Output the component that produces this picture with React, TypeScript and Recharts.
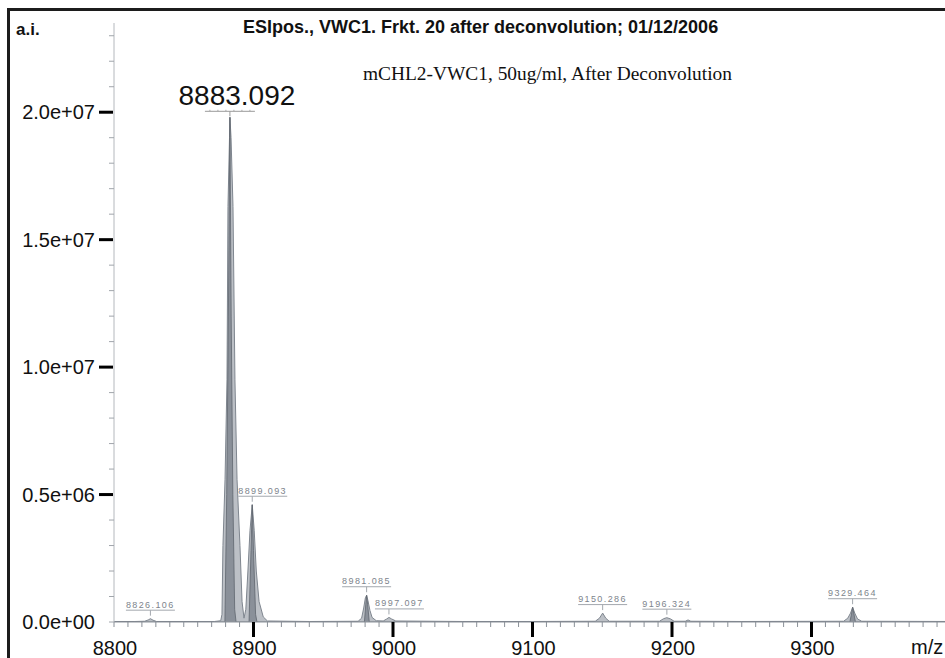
import React from 'react';
import { ComposedChart, Area, XAxis, YAxis, ReferenceDot } from 'recharts';

// ---- Data (intensity in units of 1e6 a.i.) ----
const spectrumMz = [
  8800, 8815, 8822, 8824.5, 8826.1, 8828, 8830.5, 8850, 8872, 8876.5,
  8877.4, 8878.1, 8879.6, 8881.0, 8881.7, 8882.8, 8883.1, 8883.9, 8885.3, 8886.7,
  8888.2, 8890.3, 8891.8, 8893.2, 8894.5, 8896.0, 8897.5, 8899.1, 8900.5, 8902.0,
  8904.0, 8907, 8910, 8940, 8975, 8977.5, 8979, 8980.2, 8981.1, 8982,
  8983.5, 8985, 8988, 8993, 8995.5, 8997.1, 8999, 9002, 9050, 9100,
  9145, 9148, 9150.3, 9152.5, 9155, 9191, 9194, 9196.3, 9199, 9201.5,
  9209.5, 9211.5, 9213.5, 9250, 9323, 9326, 9328, 9329.5, 9331, 9333,
  9336, 9400,
];
const spectrumIntensity = [
  0.02, 0.02, 0.03, 0.08, 0.13, 0.07, 0.02, 0.02, 0.02, 0.05,
  0.3, 3.0, 5.6, 9.5, 16.3, 19.0, 19.8, 19.0, 16.3, 9.5,
  5.6, 3.0, 0.8, 0.15, 0.5, 2.0, 3.6, 4.6, 3.6, 2.0,
  0.8, 0.2, 0.04, 0.02, 0.03, 0.15, 0.55, 0.95, 1.05, 0.85,
  0.45, 0.18, 0.05, 0.04, 0.12, 0.18, 0.12, 0.04, 0.02, 0.02,
  0.03, 0.15, 0.35, 0.15, 0.03, 0.03, 0.13, 0.17, 0.12, 0.03,
  0.03, 0.08, 0.03, 0.02, 0.03, 0.15, 0.35, 0.58, 0.35, 0.12,
  0.03, 0.02,
];

// darker overlapping core trace of the strongest peaks
const coreMz = [
  8800, 8879.5, 8880.8, 8882.0, 8883.1, 8884.0, 8885.2, 8886.5, 8887.5,
  8896.8, 8898.2, 8899.1, 8900.0, 8901.5, 8902.5,
  8979.5, 8980.5, 8981.1, 8981.8, 8983,
  9327.5, 9328.8, 9329.5, 9330.3, 9331.5, 9400,
];
const coreIntensity = [
  0, 0, 5, 12, 19.8, 12, 5, 0.5, 0,
  0, 2.8, 4.6, 2.8, 0.3, 0,
  0, 0.7, 1.05, 0.7, 0,
  0, 0.35, 0.58, 0.35, 0, 0,
];

const peakMz = [8826.106, 8883.092, 8899.093, 8981.085, 8997.097, 9150.286, 9196.324, 9329.464];
const peakHeight = [0.13, 19.8, 4.6, 1.05, 0.18, 0.35, 0.17, 0.58];
const peakLabels = ['8826.106', '8883.092', '8899.093', '8981.085', '8997.097', '9150.286', '9196.324', '9329.464'];

const xMajorTicks = [8800, 8900, 9000, 9100, 9200, 9300];
const xTickLabels = ['8800', '8900', '9000', '9100', '9200', '9300'];
const yMajorTicks = [0, 5, 10, 15, 20];
const yTickLabels = ['0.0e+00', '0.5e+06', '1.0e+07', '1.5e+07', '2.0e+07'];

const titleText = 'ESIpos., VWC1. Frkt. 20 after deconvolution; 01/12/2006';
const subtitleText = 'mCHL2-VWC1, 50ug/ml, After Deconvolution';
const yAxisTitle = 'a.i.';
const xAxisTitle = 'm/z';

// ---- derived tables ----
const spectrumData = spectrumMz.map((mz, i) => ({ mz, v: spectrumIntensity[i] }));
const coreData = coreMz.map((mz, i) => ({ mz, c: coreIntensity[i] }));
const xMinorTicks: number[] = [];
for (let t = 8800; t <= 9390; t += 10) xMinorTicks.push(t);
const yMinorTicks: number[] = [];
for (let t = 0; t <= 23; t += 1) yMinorTicks.push(t);

const SANS = '"Liberation Sans", Arial, sans-serif';
const SERIF = '"Liberation Serif", "Times New Roman", serif';

const XTick = (props: any) => {
  const { x, y, payload } = props;
  const v = payload.value;
  const idx = xMajorTicks.indexOf(v);
  const major = idx >= 0;
  return (
    <g>
      {major && idx > 0 ? (
        <line x1={x} x2={x} y1={y} y2={y + 15} stroke="#000" strokeWidth={3} />
      ) : (
        <line x1={x} x2={x} y1={y} y2={y + 5} stroke="#8a9098" strokeWidth={1} />
      )}
      {major && (
        <text x={x + 1} y={y + 33} textAnchor="middle" fontSize={20} fontFamily={SANS} fill="#111">
          {xTickLabels[idx]}
        </text>
      )}
    </g>
  );
};

const YTick = (props: any) => {
  const { x, y, payload } = props;
  const v = payload.value;
  const idx = yMajorTicks.indexOf(v);
  const major = idx >= 0;
  return (
    <g>
      {major && idx > 0 ? (
        <line x1={x - 15} x2={x - 1} y1={y} y2={y} stroke="#000" strokeWidth={3} />
      ) : (
        <line x1={x - 5} x2={x} y1={y} y2={y} stroke="#a0a5ab" strokeWidth={1} />
      )}
      {major && (
        <text x={x - 19} y={y + 7} textAnchor="end" fontSize={20} fontFamily={SANS} fill="#111">
          {yTickLabels[idx]}
        </text>
      )}
    </g>
  );
};

const shiftedRight = new Set(['8899.093', '8997.097']);

const makePeakLabel = (label: string, main: boolean) => (props: any) => {
  const { cx, cy } = props;
  if (main) {
    const ticks = [-20, -12, -4, 4, 12, 20];
    return (
      <g>
        <text x={cx + 7} y={cy - 12} textAnchor="middle" fontSize={28} fontFamily={SANS} fill="#111">
          {label}
        </text>
        <line x1={cx - 25} x2={cx + 25} y1={cy - 6} y2={cy - 6} stroke="#9a9a9a" strokeWidth={1} />
        {ticks.map((d) => (
          <line key={d} x1={cx + d} x2={cx + d} y1={cy - 7.5} y2={cy - 6} stroke="#aaa" strokeWidth={1} />
        ))}
        <line x1={cx} x2={cx} y1={cy - 6} y2={cy - 1} stroke="#9a9a9a" strokeWidth={1} />
      </g>
    );
  }
  const w = 49;
  const left = shiftedRight.has(label) ? cx - 14 : cx - w / 2;
  return (
    <g>
      <text x={left} y={cy - 11} fontSize={9} letterSpacing={1.4} fontFamily={SANS} fill="#7d848c">
        {label}
      </text>
      <line x1={left} x2={left + w} y1={cy - 8.5} y2={cy - 8.5} stroke="#a3a8ae" strokeWidth={1} />
      <line x1={cx} x2={cx} y1={cy - 8.5} y2={cy - 3} stroke="#a3a8ae" strokeWidth={1} />
    </g>
  );
};

export default function App() {
  return (
    <div style={{ position: 'relative', width: 945, height: 658, overflow: 'hidden', background: '#fff' }}>
      <style>{`body{margin:0;overflow:hidden;background:#fff}`}</style>
      <div
        style={{
          position: 'absolute', left: 7, top: 8, width: 1000, height: 700,
          border: '3px solid #1c1c1c', boxSizing: 'border-box',
        }}
      />
      <div style={{ position: 'absolute', left: 0, top: 0 }}>
        <ComposedChart width={960} height={658} margin={{ top: 23, right: 9, bottom: 6, left: 14 }}>
          <XAxis
            type="number"
            dataKey="mz"
            domain={[8800, 9400]}
            allowDataOverflow
            ticks={xMinorTicks}
            interval={0}
            tick={<XTick />}
            tickLine={false}
            tickSize={0}
            tickMargin={0}
            height={30}
            axisLine={{ stroke: '#8d939b', strokeWidth: 1.2 }}
          />
          <YAxis
            type="number"
            domain={[0, 23.5]}
            allowDataOverflow
            ticks={yMinorTicks}
            interval={0}
            tick={<YTick />}
            tickLine={false}
            tickSize={0}
            tickMargin={0}
            width={100}
            axisLine={{ stroke: '#b4b8bd', strokeWidth: 1 }}
          />
          <Area
            data={spectrumData}
            dataKey="v"
            type="linear"
            fill="#bcc0c6"
            fillOpacity={1}
            stroke="#7f868f"
            strokeWidth={1}
            isAnimationActive={false}
            dot={false}
            activeDot={false}
          />
          <Area
            data={coreData}
            dataKey="c"
            type="linear"
            fill="#8a9099"
            fillOpacity={1}
            stroke="#5f666f"
            strokeWidth={0.8}
            isAnimationActive={false}
            dot={false}
            activeDot={false}
          />
          {peakMz.map((mz, i) => (
            <ReferenceDot
              key={peakLabels[i]}
              x={mz}
              y={peakHeight[i]}
              r={0}
              ifOverflow="visible"
              shape={makePeakLabel(peakLabels[i], i === 1)}
            />
          ))}
        </ComposedChart>
      </div>
      <div style={{ position: 'absolute', left: 16, top: 20, fontFamily: SANS, fontWeight: 'bold', fontSize: 17, color: '#111' }}>
        {yAxisTitle}
      </div>
      <div style={{ position: 'absolute', left: 243, top: 17, fontFamily: SANS, fontWeight: 'bold', fontSize: 18, color: '#111', whiteSpace: 'nowrap' }}>
        {titleText}
      </div>
      <div style={{ position: 'absolute', left: 363, top: 63, fontFamily: SERIF, fontSize: 19.4, color: '#111', whiteSpace: 'nowrap' }}>
        {subtitleText}
      </div>
      <div style={{ position: 'absolute', left: 911, top: 636, fontFamily: SANS, fontSize: 20, color: '#111', whiteSpace: 'nowrap' }}>
        {xAxisTitle}
      </div>
    </div>
  );
}
